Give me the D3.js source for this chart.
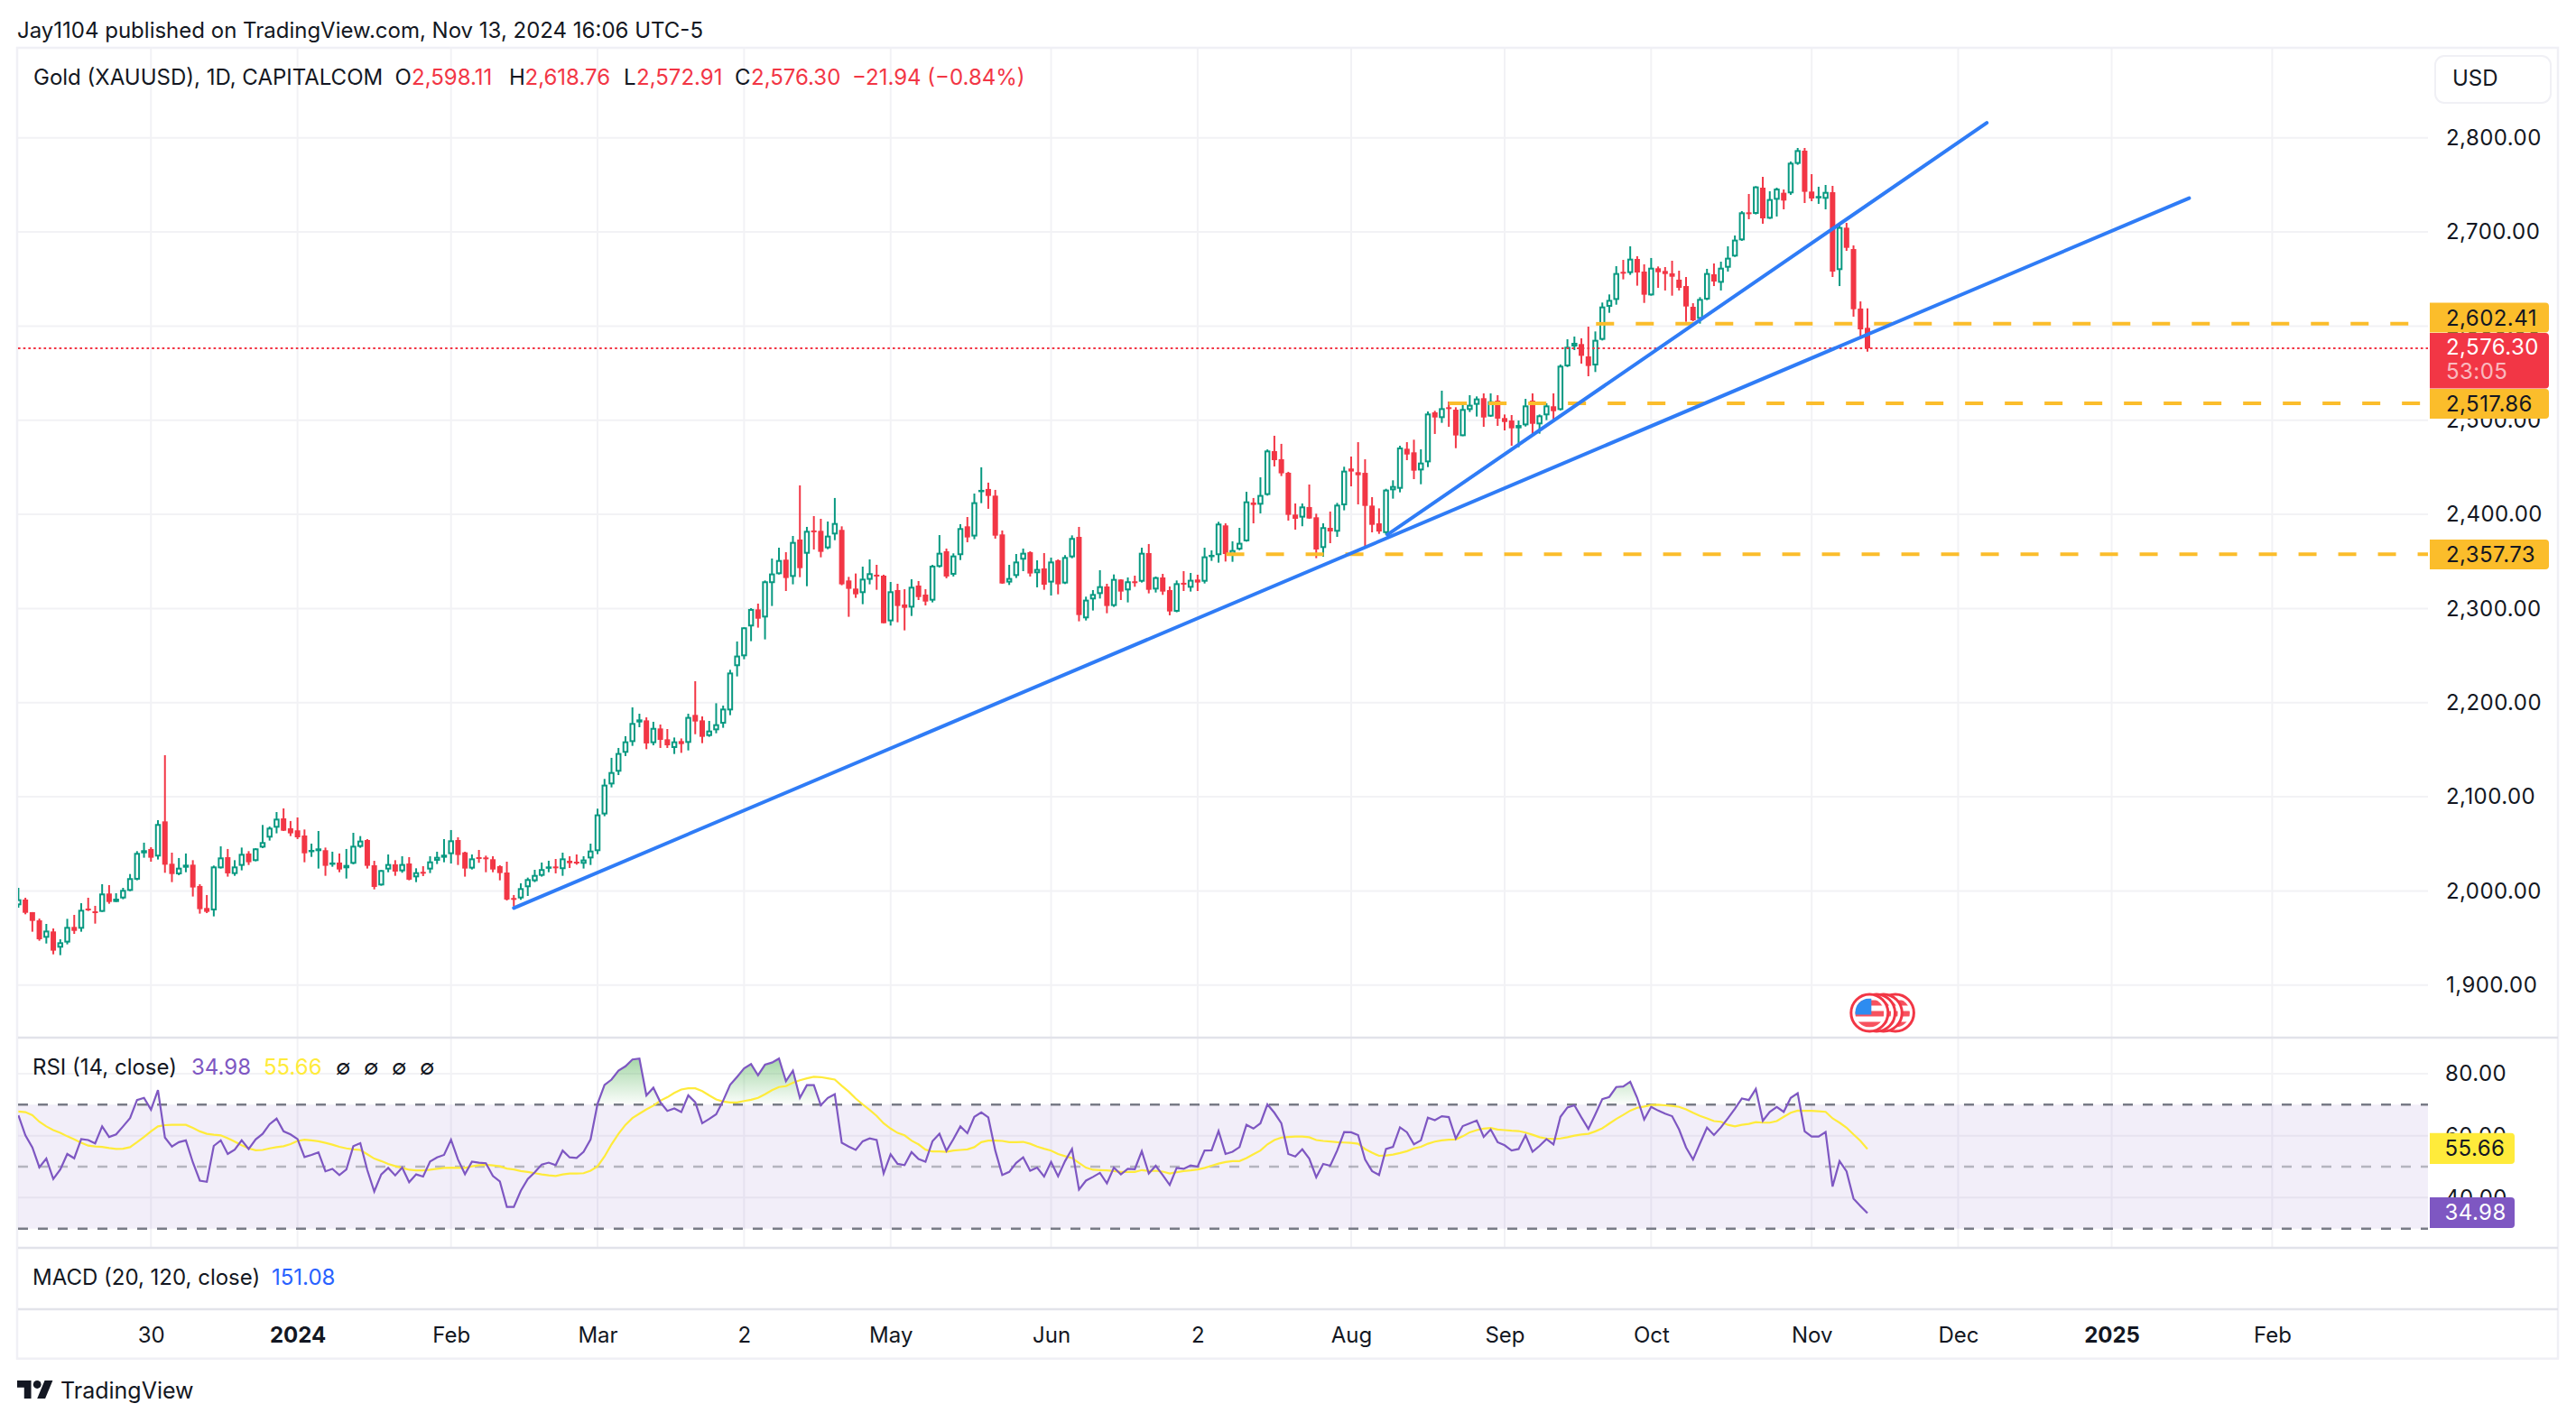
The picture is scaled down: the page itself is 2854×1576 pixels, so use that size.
<!doctype html>
<html>
<head>
<meta charset="utf-8">
<script src="https://d3js.org/d3.v7.min.js"></script>
<style>
body { margin: 0; background: #fff; }
text { font-family: Inter, "Noto Sans", sans-serif; fill: #131722; }
</style>
</head>
<body>
<svg width="2854" height="1576"></svg>
<script>
// daily bars, first bar is the one cut at the left edge
var opens = [
1984.8,1990.9,1977.5,1968.8,1950.3,1957,1939.8,1945.2,1961.8,1959.9,
1981.3,1978.4,1977.8,1997.3,1988.3,1992.1,2000.1,2012,2040,2044.6,
2036.6,2073.9,2028.9,2017.7,2024.7,2027.9,2005.3,1981.9,1979.4,2024.1,
2035.9,2018,2026.7,2039.8,2031.8,2046.1,2056.7,2067.2,2077.1,2066.6,
2064.4,2058.9,2042.3,2042.3,2043.3,2028.9,2030.2,2024.1,2028.9,2046.8,
2054.1,2027.3,2005.9,2022.8,2028.3,2020.9,2029.2,2014.5,2020.3,2022.8,
2032.1,2035.3,2039.1,2054.1,2041,2023.8,2035.9,2035.6,2033.7,2026.3,
2019.6,1992.5,1992.1,2004,2010.4,2016.1,2025,2026,2023.2,2032.1,
2031.1,2028.9,2034.6,2042.3,2081.3,2113.2,2126.7,2146.8,2158.2,2179,
2181.2,2157,2172.6,2161.1,2151.9,2159.2,2157.3,2187,2181.2,2164.6,
2170.7,2177.7,2191.8,2238.8,2249.3,2281,2299.1,2290.5,2327,2336.5,
2351.9,2333.6,2373.3,2358.2,2382.9,2382.5,2364,2378.7,2383.5,2329.8,
2321.2,2316.4,2330.5,2335.9,2334.9,2286.4,2319.6,2304.3,2301,2324.4,
2314.8,2308.4,2344.2,2360.8,2335.9,2356.7,2387.3,2376.5,2424.7,2427,
2419.9,2378.7,2327.6,2334.6,2351.9,2359.8,2337.5,2342.6,2327.6,2351.2,
2326.6,2354.4,2376.1,2289.6,2309.7,2315.4,2323.4,2302.7,2330.8,2319.3,
2328.9,2328.5,2358.9,2320.2,2333,2319.6,2296.6,2327.3,2322.1,2330.8,
2328.5,2355.7,2356.7,2388.3,2357.3,2362.7,2371.4,2412.6,2410.3,2420.6,
2467.2,2458.6,2444.2,2399.8,2396.6,2407.8,2396.9,2364.3,2385.7,2381.6,
2409.7,2448.7,2444.8,2444.1,2409.3,2390.5,2380.2,2425.6,2427.2,2469.7,
2465.9,2446.7,2455.3,2508.4,2502.3,2513.8,2511.2,2483.1,2510.9,2516.4,
2523.4,2503.9,2520.8,2502.3,2499.7,2491.4,2494.6,2520.8,2495.6,2505.2,
2514.8,2510.9,2557.2,2578.3,2580.9,2567.8,2558.2,2585.4,2620.5,2627.8,
2657.6,2656.3,2671.3,2657.9,2632.6,2661.4,2658.5,2656,2649.3,2642.5,
2620.5,2607.7,2628.2,2655,2646,2662,2673.9,2691.1,2720.8,2719.2,
2747,2714.1,2734.2,2741.6,2741,2772.3,2786.3,2742.9,2736.8,2735.2,
2742.2,2659.5,2704.5,2681.8,2618.6,2598.11];
var highs = [
2003.3,1992.8,1977.5,1970.7,1965,1960.2,1948.7,1970.4,1974.6,1987,
1992.8,1984.2,2007.2,2006.2,1997.6,2003.3,2018,2042.3,2051.3,2046.5,
2075.2,2144.2,2040.7,2035,2039.8,2032.7,2007.2,1995.7,2027,2047.4,
2044.6,2032.7,2046.1,2042.3,2045.5,2070.1,2068.5,2083.8,2087.7,2074.3,
2078.1,2065.3,2050.3,2063.7,2046.1,2041.7,2039.8,2044.6,2061.8,2058.3,
2055.1,2032,2022.2,2038.8,2032.7,2036.9,2035.9,2024.1,2026.3,2036.9,
2041.7,2055.1,2064.7,2057,2041.7,2038.8,2043.6,2037.5,2036.9,2027.3,
2031.1,1995.7,2008.1,2014.2,2022.5,2030.2,2032.1,2034,2040.7,2036.9,
2038.8,2036.9,2050.3,2087.4,2119,2141.4,2151.9,2164.4,2195,2188.3,
2184.4,2179.7,2176.8,2172,2163,2162,2188.3,2222.8,2185.4,2180.6,
2199.4,2196.9,2234.9,2265,2280,2300.4,2305.2,2329.8,2353.1,2364.6,
2359.8,2377.1,2430.8,2386.7,2398.2,2395.3,2392.4,2417.4,2387.3,2333.6,
2337.2,2344.5,2352.2,2346.4,2335.9,2328.2,2326.3,2320.5,2331.1,2329.2,
2320.5,2346.4,2378,2363.7,2358.6,2389.6,2397.2,2422.1,2450,2433.7,
2426,2382.9,2346.4,2357.9,2363.7,2360.8,2351.2,2358.9,2354.1,2352.2,
2356.7,2377.7,2386.7,2312.6,2319.6,2340.7,2326.3,2336.2,2331.1,2333,
2334.9,2364.6,2368.5,2334,2336.8,2323.4,2329.8,2339.7,2337.8,2335.9,
2364.6,2361.8,2392.1,2390.5,2371.4,2385.7,2424,2417.4,2439.4,2469,
2483.5,2474.9,2445.2,2411.6,2411.6,2431.7,2400.7,2390.5,2403,2412.2,
2450.6,2461.4,2476.7,2458.5,2418.3,2406.4,2427.2,2436.2,2472.9,2476.7,
2479.3,2469.1,2509.3,2510,2531.4,2519.9,2513.8,2517.6,2526.6,2525.3,
2528.5,2528.5,2526.6,2506.1,2505.5,2499.7,2522.7,2528.5,2506.1,2518,
2528.5,2559.2,2586,2588.9,2587,2599.4,2594.3,2625,2633.6,2663.6,
2670.3,2684.7,2674.2,2665.6,2672.3,2663.3,2662.7,2669.4,2658.8,2652.1,
2624.3,2630.7,2660.8,2666.5,2668.4,2684.7,2696.2,2722.1,2740.3,2748.6,
2758.5,2743.2,2747,2745.1,2774.8,2789.2,2789.2,2761.4,2748,2749.9,
2748.9,2709.6,2709.6,2685.7,2626.2,2618.76];
var lows = [
1982.2,1975.2,1956.7,1947.1,1944.2,1932.7,1931.8,1943.3,1954.4,1956.7,
1978.7,1965.3,1977.8,1986.4,1988.3,1991.2,1999.8,2011.3,2035.3,2031.1,
2033.4,2019.3,2009.4,2016.7,2019.9,1994.1,1975.9,1976.5,1973,2023.8,
2015.2,2016.1,2021.9,2027.6,2031.5,2045.5,2053.5,2061.2,2063.7,2058.3,
2055.1,2030.5,2036.2,2023.8,2016.1,2025.7,2019.9,2013.2,2028.3,2045.8,
2023.8,2001.7,2005.6,2019.9,2016.1,2019.3,2011.3,2009.4,2015.8,2019,
2028.6,2030.5,2029.2,2027.6,2015.2,2022.8,2029.9,2019.9,2019.9,2011.3,
1989.9,1983.5,1990.6,1994.7,2009.4,2015.2,2019.9,2018.7,2016.1,2024.4,
2027.9,2023.8,2027.6,2039.1,2079.4,2110,2123.1,2143.3,2154.1,2173.9,
2150.6,2154.7,2151.9,2151.9,2145.5,2146.7,2149.3,2166.5,2157,2163.7,
2167.5,2173.3,2186.7,2227.9,2246.1,2265.3,2279.7,2267.2,2302.7,2336.2,
2318.6,2325.7,2333.3,2323.7,2362.7,2354.4,2363,2372.6,2324.7,2291.2,
2311.3,2304.6,2325.7,2319.9,2284.4,2281.9,2285.4,2276.8,2292.1,2309,
2303.3,2306.5,2343.5,2332.1,2334,2351.5,2370.4,2373.6,2411.9,2405.9,
2374.2,2326.3,2325,2332.4,2339.7,2334,2322.5,2319.9,2313.8,2315.1,
2326,2353.4,2286.4,2287.3,2297.9,2310.6,2295,2301.7,2309,2306.5,
2323.1,2327.6,2316.1,2317,2314.5,2292.8,2296,2318.6,2318,2318.6,
2326.6,2350.6,2348.7,2349.9,2349.6,2361.8,2371,2390.5,2401,2419.9,
2450.9,2440.7,2393.4,2383.8,2387.4,2395.3,2353.5,2355.1,2369.4,2376.1,
2404.3,2429.8,2410.6,2364.3,2380.9,2379.3,2378.3,2416.7,2423.4,2457.6,
2437.4,2432,2450.2,2485.4,2497.2,2493,2470.3,2483.1,2508.7,2503.9,
2493,2503.6,2494,2489.2,2472.9,2471.3,2493.3,2484.7,2485.7,2500.1,
2500.4,2510.3,2556.5,2574.5,2560.1,2546.7,2551.2,2584.7,2614.1,2622.7,
2649.6,2654.4,2642.9,2624.6,2632.3,2640.6,2637.8,2632.3,2637.8,2604.5,
2605.2,2602.6,2627.5,2642.5,2637.8,2657.9,2673.5,2690.5,2713.5,2718.6,
2708.7,2713.8,2716.4,2724,2739.4,2771.3,2730.7,2732.6,2729.8,2724,
2652.1,2642.5,2679.9,2610,2588.6,2572.91];
var closes = [
1991.2,1976.8,1968.2,1948.7,1957.9,1936.6,1945.5,1961.8,1957.6,1980,
1979.4,1976.8,1997.3,1988.3,1991.8,2001.1,2013.6,2040.4,2043.3,2035.3,
2071.1,2027.9,2018,2024.7,2027.9,2003.7,1980.7,1977.8,2026,2035.6,
2018.7,2026,2039.4,2030.5,2045.2,2051.9,2067.2,2076.8,2064,2061.2,
2057,2040,2043.6,2045.2,2026.7,2030.2,2022.8,2027.6,2048,2053.5,
2026.7,2004.3,2022.2,2028.6,2020.6,2028.6,2012,2019.9,2019,2031.4,
2036.2,2038.5,2053.8,2038.2,2023.8,2034.6,2034.3,2034.3,2022.8,2019,
1990.9,1991.5,2003,2012.6,2017,2023.2,2026,2024.7,2034.6,2029.5,
2029.5,2033.4,2042.9,2081.3,2112.9,2126.3,2146.5,2158.9,2178.4,2182.2,
2156.7,2173.2,2160.5,2154.7,2158.9,2156,2184.8,2180,2163.7,2170.4,
2177.1,2193.7,2232,2250,2280,2299.5,2289.2,2328.9,2337.2,2351.5,
2332.4,2370.7,2342.9,2382.5,2381.3,2360.2,2377.4,2390.8,2325.7,2320.9,
2315.1,2331.7,2337.5,2334.3,2284.4,2318.3,2302.7,2300.7,2323.1,2312.2,
2307.4,2345.5,2359.2,2334,2356.3,2385.4,2375.5,2412.9,2426,2419.6,
2377.4,2326.6,2332.4,2349.9,2359.2,2337.2,2342,2325.3,2349.9,2325.7,
2354.7,2374.9,2293.1,2309.4,2315.4,2323.7,2302.7,2331.4,2318,2328.9,
2327.6,2359.2,2319.9,2333.3,2318,2296.9,2326.9,2325.7,2330.5,2327.6,
2355.4,2357,2390.2,2357.9,2362.1,2369.8,2413.8,2410,2420.6,2467.8,
2457.6,2443.6,2399.5,2395.3,2408.4,2395.6,2362.7,2386.4,2381.9,2410.3,
2446.4,2445.5,2441.6,2409,2388.9,2381.8,2426.3,2430.1,2471,2463.6,
2446.4,2455,2507.1,2502.9,2512.8,2512.5,2483.8,2511.9,2516.4,2523.1,
2502.9,2520.2,2501.7,2498.1,2491.4,2494.9,2515.7,2496.2,2505.2,2515.7,
2509.6,2557.9,2578,2582.2,2568.4,2557.6,2585.4,2620.8,2627.8,2656.3,
2656.6,2671.6,2656.9,2633.3,2662,2657.2,2655.3,2652.4,2640.6,2620.8,
2606.1,2628.8,2656.3,2647.3,2662,2672.6,2691.8,2720.8,2719.5,2748.3,
2714.4,2734.9,2746,2733.3,2773.5,2786.9,2742.6,2735.5,2738.1,2742.5,
2657.9,2705.2,2683.1,2617.9,2596.5,2576.30];

var rsiValues = [
66.6,60.1,56.2,49.8,52.6,46.0,49.1,54.1,52.7,58.9,
58.6,57.5,63.0,59.6,60.4,63.0,65.7,71.5,72.2,68.4,
74.7,59.4,56.5,57.9,58.5,51.4,45.5,45.1,56.7,58.5,
54.1,55.5,58.5,55.7,58.8,60.6,63.7,65.5,61.4,60.4,
58.9,53.1,53.8,54.6,48.5,49.3,47.3,49.1,56.6,57.6,
48.9,42.0,47.5,49.6,47.2,49.7,45.0,47.5,46.8,51.7,
53.0,53.8,58.7,52.3,47.6,51.6,51.3,51.1,47.0,45.2,
37.0,37.0,42.2,46.0,48.2,50.7,51.3,50.5,55.2,53.0,
52.8,54.8,58.8,70.3,76.4,78.1,81.0,82.4,84.6,84.9,
73.0,75.5,70.8,68.0,68.8,67.6,73.0,70.8,64.0,65.4,
66.9,71.3,76.4,79.0,81.7,83.1,79.5,82.9,83.6,84.9,
77.6,81.0,72.2,76.3,76.3,69.8,72.2,73.4,57.7,56.5,
55.4,58.2,59.1,58.6,47.8,54.0,50.9,50.5,54.7,52.5,
51.6,58.2,60.6,55.1,58.9,63.0,60.8,66.1,67.5,65.9,
55.2,47.3,48.3,51.2,53.0,48.7,49.7,46.8,51.5,46.9,
51.8,55.7,42.6,45.5,46.7,48.0,44.6,49.7,47.5,49.3,
49.2,55.0,47.8,50.3,47.3,44.1,49.6,49.3,50.4,50.0,
55.2,55.3,61.5,54.1,54.8,56.3,63.5,62.3,64.0,70.1,
67.4,64.0,54.1,53.3,55.6,52.6,46.6,50.9,50.3,55.2,
61.2,61.1,60.2,52.3,48.6,47.3,55.7,56.4,62.7,61.1,
57.2,58.5,65.8,65.0,66.3,66.0,59.1,63.1,64.0,64.9,
59.6,62.0,57.9,56.9,55.2,55.7,60.1,54.8,56.7,58.9,
57.2,66.1,69.1,69.8,65.9,62.2,66.9,71.8,72.5,75.7,
75.9,77.4,72.2,65.2,69.3,68.1,67.1,66.3,62.0,56.2,
52.3,57.5,62.6,60.2,62.7,65.6,68.7,72.0,71.5,75.1,
64.8,67.7,69.3,67.7,72.2,73.7,61.4,59.7,59.7,61.2,
43.6,51.8,48.5,39.7,37.3,34.98];
var rsiMaValues = [
67.8,67.6,66.6,64.5,63.0,61.8,60.9,59.8,58.8,57.7,
56.8,56.5,56.4,56.0,55.7,55.8,56.3,57.9,59.6,61.4,
63.0,63.4,63.5,63.5,63.5,62.5,61.4,60.6,60.3,60.1,
59.2,58.1,56.9,55.9,55.3,55.4,55.9,56.3,56.6,57.3,
58.3,58.7,58.5,58.2,57.7,57.1,56.4,55.9,55.6,55.4,
54.0,52.6,51.8,50.9,50.2,49.6,49.0,48.8,48.8,49.0,
49.3,49.6,49.7,49.6,49.6,50.1,50.5,50.6,50.4,50.1,
49.4,49.1,48.6,48.3,47.9,47.5,47.2,47.0,47.5,47.8,
47.8,47.9,48.7,50.1,53.3,57.2,60.6,63.5,65.7,67.1,
68.5,69.7,71.3,72.4,73.8,74.9,75.3,75.3,74.4,73.0,
71.7,71.0,70.7,70.7,71.2,71.6,72.2,73.4,74.7,75.7,
76.0,77.1,77.9,78.5,79.0,78.9,78.5,78.1,76.1,74.2,
72.0,70.1,68.3,66.4,64.0,62.3,60.9,60.1,58.4,57.2,
55.5,54.9,54.9,54.8,55.2,55.4,55.6,56.3,57.9,58.4,
58.4,58.3,57.9,57.9,58.0,57.4,56.5,55.8,55.2,54.1,
53.4,52.8,51.2,49.7,49.0,48.9,48.8,48.6,48.3,48.3,
48.3,48.9,48.6,48.7,48.4,47.8,48.2,48.6,48.8,49.1,
49.6,50.3,51.0,51.5,51.8,51.8,52.8,54.0,55.2,57.2,
58.6,59.4,59.6,59.7,59.7,59.5,58.6,58.3,58.1,57.9,
57.8,57.7,57.4,55.7,54.5,53.5,53.6,53.9,54.4,55.0,
55.9,56.4,57.4,58.1,58.5,58.7,58.8,59.8,61.1,61.8,
62.3,62.5,62.0,61.8,61.6,61.5,61.0,60.3,59.5,59.1,
58.9,59.1,59.5,60.0,60.4,60.6,61.4,62.4,63.9,65.4,
66.7,68.1,69.0,69.4,69.9,70.0,69.8,69.6,69.3,68.5,
67.4,66.4,65.6,64.7,64.5,63.5,63.0,63.5,63.8,64.4,
64.2,64.2,64.7,66.1,67.4,68.1,68.0,68.0,67.9,67.7,
65.6,64.2,62.6,60.4,58.3,55.66];

var priceTicks = [1900,2000,2100,2200,2300,2400,2500,2600,2700,2800];
var rsiTicks = [40,60,80];
var timeBars = [19,40,62,83,104,125,148,169,191,213,234,257,278,300,323];
var timeLabels = ["30","2024","Feb","Mar","2","May","Jun","2","Aug","Sep","Oct","Nov","Dec","2025","Feb"];
var boldLabels = ["2024","2025"];

// hand drawn levels and trend lines, [bar, price]
var levelPrices = [2602.41,2517.86,2357.73];
var levelStartBars = [226.1,205,173.1];
var trendStart = [[71,1981.9],[196.2,2378.3]];
var trendEnd = [[311.1,2735.9],[282.1,2815.9]];
var eventBars = [269,267.3,266.3,265.3];

var red = "#f23645", green = "#089981", blue = "#2f7cf6", gold = "#fbbd2b",
    purple = "#7e57c2", yellow = "#ffeb3b", gridCol = "#f2f2f5", sepCol = "#e2e3ea", frameCol = "#f0f0f5";

var svg = d3.select("svg");
var plotL = 20, plotR = 2690, panelTop = 53, mainBottom = 1150, rsiBottom = 1383, macdBottom = 1451, frameBottom = 1505.7, frameR = 2834;

var x = d3.scaleLinear().domain([0,265]).range([20.4,2069]);
var y = d3.scaleLinear().domain([1900,2800]).range([1091.8,152.7]);
var yRsi = d3.scaleLinear().domain([30,80]).range([1361.7,1190]);

var bars = d3.range(opens.length);
var defs = svg.append("defs");
defs.append("clipPath").attr("id","plotClip").append("rect")
    .attr("x",plotL).attr("y",panelTop).attr("width",plotR-plotL).attr("height",rsiBottom-panelTop);
defs.append("clipPath").attr("id","aboveClip").append("rect")
    .attr("x",plotL).attr("y",mainBottom).attr("width",plotR-plotL).attr("height",yRsi(70)-mainBottom);
var grad = defs.append("linearGradient").attr("id","obGrad").attr("gradientUnits","userSpaceOnUse")
    .attr("x1",0).attr("x2",0).attr("y1",yRsi(85)).attr("y2",yRsi(70));
grad.append("stop").attr("offset",0).attr("stop-color","#4caf50").attr("stop-opacity",0.5);
grad.append("stop").attr("offset",1).attr("stop-color","#4caf50").attr("stop-opacity",0.02);

// grid
var grid = svg.append("g");
grid.selectAll(".gx").data(priceTicks).enter().append("line")
    .attr("x1",plotL).attr("x2",plotR).attr("y1",d=>y(d)).attr("y2",d=>y(d))
    .attr("stroke",gridCol).attr("stroke-width",2);
grid.selectAll(".gr").data([80,60,40]).enter().append("line")
    .attr("x1",plotL).attr("x2",plotR).attr("y1",d=>yRsi(d)).attr("y2",d=>yRsi(d))
    .attr("stroke",gridCol).attr("stroke-width",2);
grid.selectAll(".gt").data(timeBars).enter().append("line")
    .attr("x1",d=>x(d)).attr("x2",d=>x(d)).attr("y1",panelTop).attr("y2",rsiBottom)
    .attr("stroke",gridCol).attr("stroke-width",2);

// frame
var frame = svg.append("g").attr("fill","none");
frame.append("rect").attr("x",plotL-1).attr("y",panelTop).attr("width",frameR-plotL+1).attr("height",frameBottom-panelTop)
    .attr("stroke",frameCol).attr("stroke-width",2.5);
frame.selectAll("line").data([mainBottom,rsiBottom,macdBottom]).enter().append("line")
    .attr("x1",plotL).attr("x2",frameR).attr("y1",d=>d).attr("y2",d=>d)
    .attr("stroke",sepCol).attr("stroke-width",2.5);

// candles
var candles = svg.append("g").attr("clip-path","url(#plotClip)");
var candle = candles.selectAll("g").data(bars).enter().append("g");
candle.append("line")
    .attr("x1",i=>x(i)).attr("x2",i=>x(i))
    .attr("y1",i=>y(highs[i])).attr("y2",i=>y(lows[i]))
    .attr("stroke",i=>closes[i]>=opens[i]?green:red).attr("stroke-width",2);
candle.append("rect")
    .attr("x",i=>closes[i]>=opens[i]?x(i)-2.25:x(i)-3)
    .attr("width",i=>closes[i]>=opens[i]?4.5:6)
    .attr("y",i=>closes[i]>=opens[i]?y(closes[i])+1:y(opens[i]))
    .attr("height",i=>closes[i]>=opens[i]?Math.max(y(opens[i])-y(closes[i])-2,0.5):Math.max(y(closes[i])-y(opens[i]),2))
    .attr("fill",i=>closes[i]>=opens[i]?"#fff":red)
    .attr("stroke",i=>closes[i]>=opens[i]?green:"none")
    .attr("stroke-width",2);

// last price line
svg.append("line")
    .attr("x1",plotL).attr("x2",plotR).attr("y1",y(closes[closes.length-1])).attr("y2",y(closes[closes.length-1]))
    .attr("stroke",red).attr("stroke-width",2).attr("stroke-dasharray","2.6 3.1");

// levels
svg.append("g").selectAll("line").data(levelPrices).enter().append("line")
    .attr("x1",(d,i)=>x(levelStartBars[i])).attr("x2",plotR)
    .attr("y1",d=>y(d)).attr("y2",d=>y(d))
    .attr("stroke",gold).attr("stroke-width",4).attr("stroke-dasharray","20 24");

// trend lines
svg.append("g").selectAll("line").data(trendStart).enter().append("line")
    .attr("x1",d=>x(d[0])).attr("y1",d=>y(d[1]))
    .attr("x2",(d,i)=>x(trendEnd[i][0])).attr("y2",(d,i)=>y(trendEnd[i][1]))
    .attr("stroke",blue).attr("stroke-width",4).attr("stroke-linecap","round");

// economic event flags
var flags = svg.append("g");
eventBars.forEach(function(b, k) {
    var cx = x(b), cy = 1122.5, r = 16;
    var id = "flag" + k;
    defs.append("clipPath").attr("id",id).append("circle").attr("cx",cx).attr("cy",cy).attr("r",r);
    var f = flags.append("g");
    f.append("circle").attr("cx",cx).attr("cy",cy).attr("r",20.5).attr("fill","#fff").attr("stroke",red).attr("stroke-width",3);
    var inner = f.append("g").attr("clip-path","url(#"+id+")");
    inner.append("rect").attr("x",cx-r).attr("y",cy-r).attr("width",2*r).attr("height",2*r).attr("fill","#fff");
    [-14,-2,10].forEach(function(o) {
        inner.append("rect").attr("x",cx-r).attr("y",cy+o).attr("width",2*r).attr("height",6).attr("fill","#f7525f");
    });
    inner.append("rect").attr("x",cx-r).attr("y",cy-r).attr("width",r+2).attr("height",18).attr("fill","#2d8cf0");
});

// rsi band
svg.append("rect").attr("x",plotL).attr("width",plotR-plotL)
    .attr("y",yRsi(70)).attr("height",yRsi(30)-yRsi(70)).attr("fill",purple).attr("fill-opacity",0.1);
svg.append("g").selectAll("line").data([70,50,30]).enter().append("line")
    .attr("x1",plotL).attr("x2",plotR).attr("y1",d=>yRsi(d)).attr("y2",d=>yRsi(d))
    .attr("stroke","#787b86").attr("stroke-opacity",d=>d==50?0.5:1).attr("stroke-width",2.5).attr("stroke-dasharray","11 11");

var rsiClip = svg.append("g").attr("clip-path","url(#plotClip)");
rsiClip.append("g").attr("clip-path","url(#aboveClip)").append("path")
    .datum(bars)
    .attr("d",d3.area().x(i=>x(i)).y0(yRsi(70)).y1(i=>yRsi(rsiValues[i])))
    .attr("fill","url(#obGrad)");
rsiClip.append("path").datum(bars)
    .attr("d",d3.line().x(i=>x(i)).y(i=>yRsi(rsiMaValues[i])))
    .attr("fill","none").attr("stroke",yellow).attr("stroke-width",2.2);
rsiClip.append("path").datum(bars)
    .attr("d",d3.line().x(i=>x(i)).y(i=>yRsi(rsiValues[i])))
    .attr("fill","none").attr("stroke",purple).attr("stroke-width",2.2);

// axes
function styleAxis(g) {
    g.select(".domain").remove();
    g.selectAll("text").style("font-family","Inter").style("font-size","24px").style("fill","#131722");
}
svg.append("g").attr("transform","translate(2690,0)")
    .call(d3.axisRight(y).tickValues(priceTicks).tickFormat(d3.format(",.2f")).tickSize(0).tickPadding(20))
    .call(styleAxis)
    .call(g=>g.selectAll("text").style("letter-spacing","0.45px"));
svg.append("g").attr("transform","translate(2690,0)")
    .call(d3.axisRight(yRsi).tickValues(rsiTicks).tickFormat(d3.format(".2f")).tickSize(0).tickPadding(19))
    .call(styleAxis)
    .call(g=>g.selectAll("text").style("letter-spacing","0.45px"));
svg.append("g").attr("transform","translate(0,1480)")
    .call(d3.axisBottom(x).tickValues(timeBars).tickFormat((d,i)=>timeLabels[i]).tickSize(0).tickPadding(0))
    .call(styleAxis)
    .call(g=>g.selectAll("text").attr("y",0).attr("dy","0.35em")
        .style("font-weight",(d,i)=>boldLabels.indexOf(timeLabels[i])>=0?"700":"400"));

function label(str, lx, ly, size, col, extra) {
    var t = svg.append("text").attr("x",lx).attr("y",ly).attr("dy","0.35em")
        .style("font-size",size+"px").style("fill",col).text(str);
    if (extra) t.style("opacity",extra);
    return t;
}
function badge(bx, by, bw, bh, col) {
    svg.append("path")
        .attr("d","M"+bx+","+by+"h"+(bw-4)+"q4,0 4,4v"+(bh-8)+"q0,4 -4,4h"+(4-bw)+"z")
        .attr("fill",col);
}

// price badges
var goldBadges = [[335.6,"2,602.41"],[431,"2,517.86"],[598,"2,357.73"]];
goldBadges.forEach(function(b) {
    badge(2692,b[0],132,33,gold);
    label(b[1],2710,b[0]+16.5,24,"#131722").style("letter-spacing","0.45px");
});
badge(2692,369,132,61.5,red);
label("2,576.30",2710,384.5,24,"#fff").style("letter-spacing","0.45px");
label("53:05",2710,412,24,"#fff",0.65).style("letter-spacing","0.45px");

badge(2692,1255.7,94,34.3,yellow);
label("55.66",2708.5,1272.7,24,"#131722").style("letter-spacing","0.45px");
badge(2692,1327,94,34,purple);
label("34.98",2708.5,1344,24,"#fff").style("letter-spacing","0.45px");

// usd button
svg.append("rect").attr("x",2698).attr("y",62).attr("width",128).attr("height",52).attr("rx",10)
    .attr("fill","#fff").attr("stroke",frameCol).attr("stroke-width",2);
label("USD",2717,87,24,"#131722");

// header and legends
label("Jay1104 published on TradingView.com, Nov 13, 2024 16:06 UTC-5",19,34,24,"#131722");
label("Gold (XAUUSD), 1D, CAPITALCOM",37,86,24,"#131722");
[["O",437.6],["H",564],["L",691],["C",814]].forEach(d=>label(d[0],d[1],86,24,"#131722"));
[["2,598.11",456],["2,618.76",581.5],["2,572.91",705],["2,576.30",832],["\u221221.94 (\u22120.84%)",944]].forEach(d=>label(d[0],d[1],86,24,red));

label("RSI (14, close)",36,1183,24,"#131722");
label("34.98",212,1183,24,purple);
label("55.66",292,1183,24,yellow);
[372,403,434,465].forEach(d=>label("\u2205",d,1183,24,"#131722"));
label("MACD (20, 120, close)",36,1416,24,"#131722");
label("151.08",301,1416,24,"#2962ff");

// footer logo
svg.append("g").attr("transform","translate(19,1525.6) scale(1.11)")
    .append("path").attr("d","M14 22H7V11H0V4h14v18zM28 22h-8l7.5-18h8L28 22z").attr("fill","#131722");
svg.append("circle").attr("cx",19+20*1.11).attr("cy",1525.6+8*1.11).attr("r",4.4).attr("fill","#131722");
label("TradingView",67,1541.7,25,"#131722");
</script>
</body>
</html>
